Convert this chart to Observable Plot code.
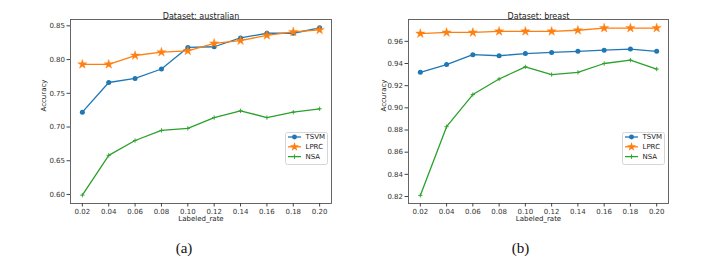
<!DOCTYPE html>
<html>
<head>
<meta charset="utf-8">
<script src="https://cdn.jsdelivr.net/npm/d3@7"></script>
<script src="https://cdn.jsdelivr.net/npm/@observablehq/plot@0.6"></script>
<style>
  html, body { margin: 0; padding: 0; background: #fff; }
  #wrap { position: relative; width: 715px; height: 263px; overflow: hidden; background: #fff; }
  #wrap > svg { position: absolute; top: 0; }
  .legend { position: absolute; }
</style>
</head>
<body>
<div id="wrap"></div>
<script>
// ---- data ----
const rates = [0.02, 0.04, 0.06, 0.08, 0.10, 0.12, 0.14, 0.16, 0.18, 0.20];
const methods = ["TSVM", "LPRC", "NSA"];
const colors = ["#1f77b4", "#ff7f0e", "#2ca02c"];
const symbols = ["circle", "star", "plus"];

const ausTSVM = [0.722, 0.766, 0.772, 0.786, 0.818, 0.819, 0.832, 0.839, 0.839, 0.847];
const ausLPRC = [0.793, 0.793, 0.806, 0.811, 0.813, 0.824, 0.828, 0.836, 0.841, 0.844];
const ausNSA  = [0.599, 0.658, 0.680, 0.695, 0.698, 0.714, 0.724, 0.714, 0.722, 0.727];

const brTSVM = [0.932, 0.939, 0.948, 0.947, 0.949, 0.950, 0.951, 0.952, 0.953, 0.951];
const brLPRC = [0.967, 0.968, 0.968, 0.969, 0.969, 0.969, 0.970, 0.972, 0.972, 0.972];
const brNSA  = [0.821, 0.883, 0.912, 0.926, 0.937, 0.930, 0.932, 0.940, 0.943, 0.935];

const ausTicks = [0.60, 0.65, 0.70, 0.75, 0.80, 0.85];
const brTicks = [0.82, 0.84, 0.86, 0.88, 0.90, 0.92, 0.94, 0.96];

function rows(series) {
  const out = [];
  series.forEach((vals, i) => vals.forEach((v, j) => out.push({rate: rates[j], acc: v, method: methods[i]})));
  return out;
}

const fmt = d3.format(".2f");

function chart({title, caption, data, yDomain, yTicks, width, marginLeft, marginRight, captionDx, ylabelDx}) {
  const marks = [
    Plot.frame({stroke: "#555", strokeWidth: 0.9}),
    Plot.axisX({ticks: rates, tickFormat: fmt, tickSize: 3.5, tickPadding: 2, label: null, stroke: "#444", fill: "#333"}),
    Plot.axisY({ticks: yTicks, tickFormat: fmt, tickSize: 3.5, tickPadding: 2, label: null, stroke: "#444", fill: "#333"})
  ];
  methods.forEach((m, i) => {
    const d = data.filter(r => r.method === m);
    marks.push(Plot.line(d, {x: "rate", y: "acc", stroke: colors[i], strokeWidth: 1.3}));
    if (symbols[i] === "plus") {
      marks.push(Plot.dot(d, {x: "rate", y: "acc", symbol: "plus", stroke: colors[i], r: 1.5, strokeWidth: 0.9}));
    } else if (symbols[i] === "star") {
      marks.push(Plot.dot(d, {x: "rate", y: "acc", symbol: "star", fill: colors[i], stroke: colors[i], strokeWidth: 0.4, r: 2.9}));
    } else {
      marks.push(Plot.dot(d, {x: "rate", y: "acc", symbol: "circle", fill: colors[i], r: 2.5}));
    }
  });
  marks.push(
    Plot.text([title], {frameAnchor: "top", dy: -6, fontSize: 8, fill: "#222"}),
    Plot.text(["Labeled_rate"], {frameAnchor: "bottom", dy: 17.5, fontSize: 7, fill: "#222"}),
    Plot.text(["Accuracy"], {frameAnchor: "left", dx: ylabelDx, rotate: -90, fontSize: 7, fill: "#222"}),
    Plot.text([caption], {frameAnchor: "bottom", dy: 49, dx: captionDx, fontSize: 15, fontFamily: "Liberation Serif", fill: "#111"})
  );
  return Plot.plot({
    width, height: 263,
    marginLeft, marginRight, marginTop: 19, marginBottom: 60,
    style: {fontFamily: "DejaVu Sans", fontSize: "7px", background: "transparent", overflow: "visible"},
    x: {domain: [0.011, 0.209]},
    y: {domain: yDomain},
    marks
  });
}

function legend(left, top) {
  const ns = "http://www.w3.org/2000/svg";
  const w = 42, h = 32;
  const svg = document.createElementNS(ns, "svg");
  svg.setAttribute("width", w + 2);
  svg.setAttribute("height", h + 2);
  svg.setAttribute("class", "legend");
  svg.style.left = left + "px";
  svg.style.top = top + "px";
  svg.style.fontFamily = "DejaVu Sans";
  let html = `<rect x="0.5" y="0.5" width="${w}" height="${h}" rx="2" fill="white" fill-opacity="0.85" stroke="#ccc" stroke-width="0.8"/>`;
  methods.forEach((m, i) => {
    const y = 5 + i * 9.8;
    html += `<line x1="3" x2="16" y1="${y}" y2="${y}" stroke="${colors[i]}" stroke-width="1.3"/>`;
    const sym = {circle: d3.symbolCircle, star: d3.symbolStar, plus: d3.symbolPlus}[symbols[i]];
    const size = {circle: 19, star: 26, plus: 8}[symbols[i]];
    const p = d3.symbol(sym, size)();
    if (symbols[i] === "plus") {
      html += `<path d="${p}" transform="translate(9.5,${y})" fill="none" stroke="${colors[i]}" stroke-width="0.9"/>`;
    } else {
      html += `<path d="${p}" transform="translate(9.5,${y})" fill="${colors[i]}"/>`;
    }
    html += `<text x="20.5" y="${y}" dy="0.35em" font-size="7" fill="#222">${m}</text>`;
  });
  svg.innerHTML = html;
  return svg;
}

const wrap = document.getElementById("wrap");

const c1 = chart({
  title: "Dataset: australian", caption: "(a)",
  data: rows([ausTSVM, ausLPRC, ausNSA]),
  yDomain: [0.5866, 0.8594], yTicks: ausTicks,
  width: 357, marginLeft: 70, marginRight: 26, captionDx: -17, ylabelDx: -27
});
c1.style.left = "0px";
wrap.appendChild(c1);

const c2 = chart({
  title: "Dataset: breast", caption: "(b)",
  data: rows([brTSVM, brLPRC, brNSA]),
  yDomain: [0.8137, 0.9797], yTicks: brTicks,
  width: 358, marginLeft: 51, marginRight: 47, captionDx: -18, ylabelDx: -25
});
c2.style.left = "357px";
wrap.appendChild(c2);

wrap.appendChild(legend(285, 132));
wrap.appendChild(legend(622, 132));
</script>
</body>
</html>
